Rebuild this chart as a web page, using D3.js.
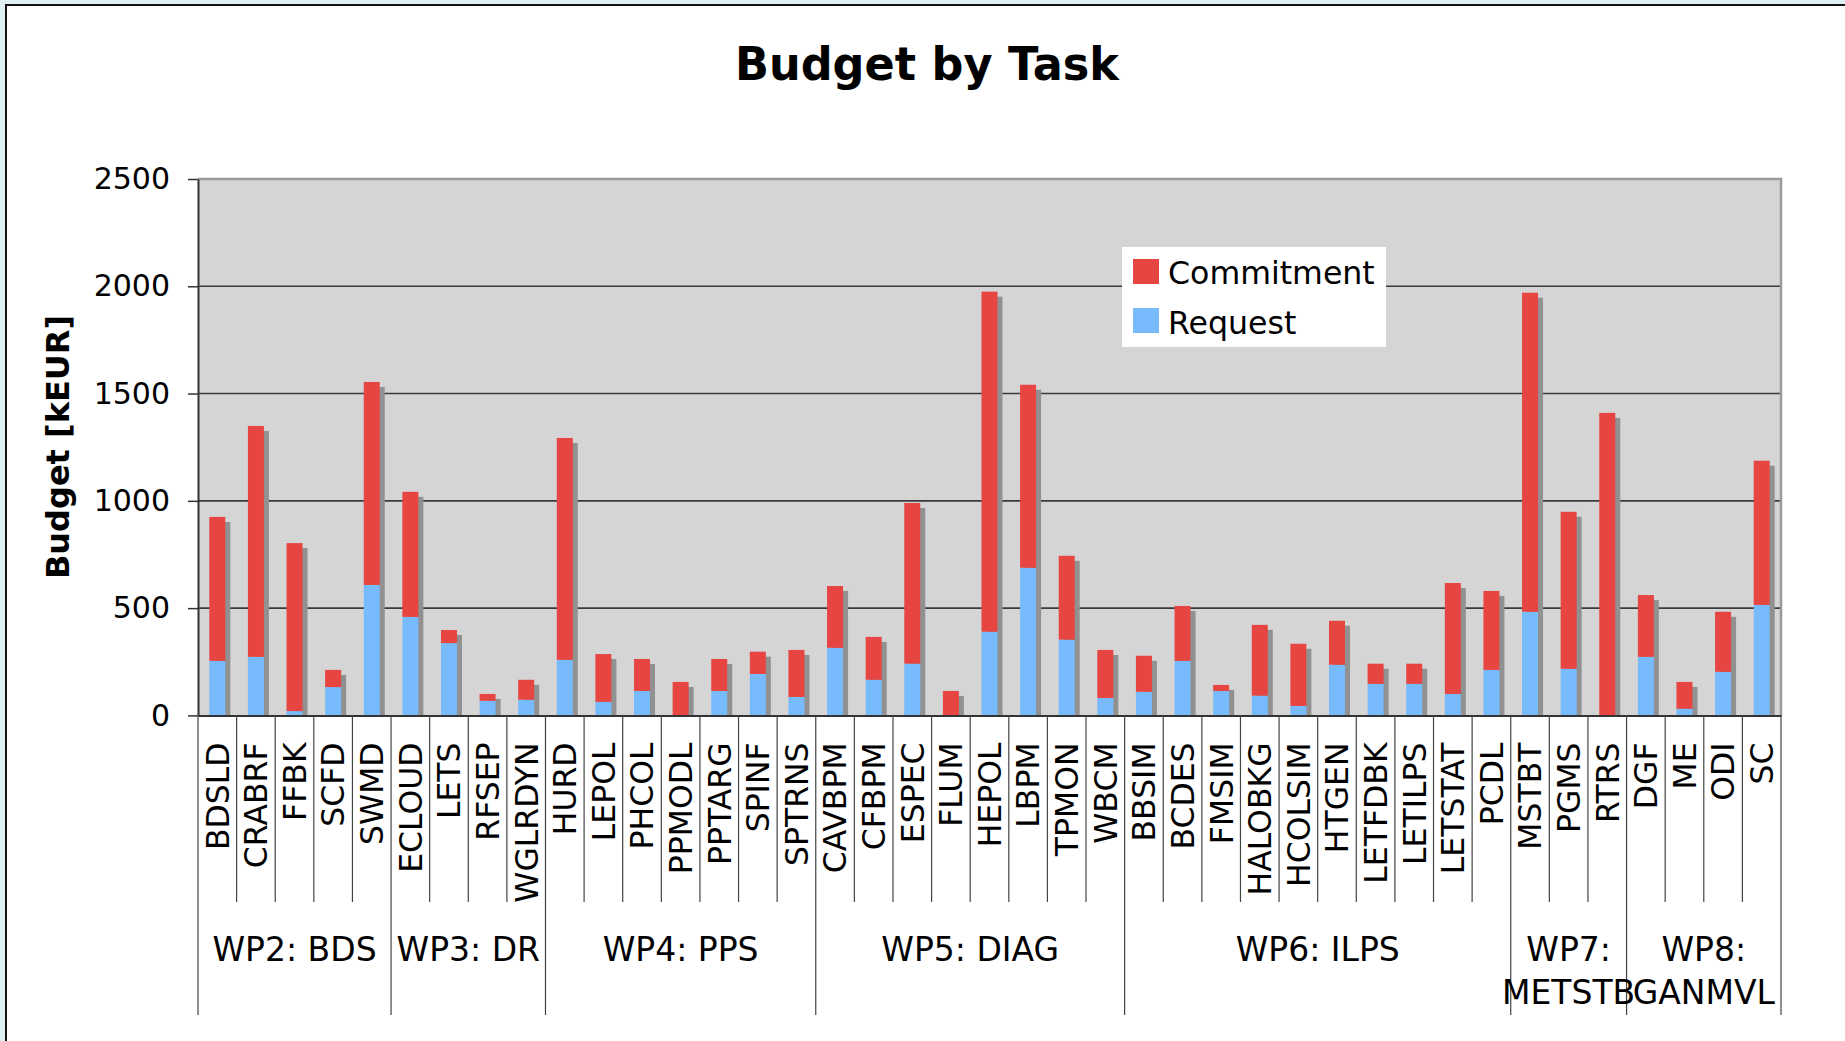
<!DOCTYPE html>
<html>
<head>
<meta charset="utf-8">
<script src="https://cdn.jsdelivr.net/npm/d3@7"></script>
<style>
  body { margin: 0; background: #dff0f5; overflow: hidden; }
  svg { display: block; }
  text { font-family: "DejaVu Sans", Verdana, sans-serif; fill: #000; }
</style>
</head>
<body>
<div id="budget-chart"></div>
<script>
//##########################################
//############   DATA   ####################
//##########################################

// tasks, in the order they are plotted
var tasks = ["BDSLD","CRABRF","FFBK","SCFD","SWMD",
             "ECLOUD","LETS","RFSEP","WGLRDYN",
             "HURD","LEPOL","PHCOL","PPMODL","PPTARG","SPINF","SPTRNS",
             "CAVBPM","CFBPM","ESPEC","FLUM","HEPOL","LBPM","TPMON","WBCM",
             "BBSIM","BCDES","FMSIM","HALOBKG","HCOLSIM","HTGEN","LETFDBK","LETILPS","LETSTAT","PCDL",
             "MSTBT","PGMS","RTRS",
             "DGF","ME","ODI","SC"]

// kEUR (request is the lower part of the stack)
var request = [254,273,20,132,608,
               459,337,68,73,
               259,63,114,0,114,193,86,
               315,166,241,0,390,688,353,81,
               110,254,114,92,44,236,147,147,100,212,
               483,217,0,
               273,31,203,515]

var commitment = [671,1076,783,80,946,
                  583,61,32,93,
                  1034,223,149,156,149,104,219,
                  288,200,749,114,1585,853,391,224,
                  168,256,28,330,290,205,94,94,517,368,
                  1487,732,1410,
                  288,125,280,672]

// work packages and how many tasks each one holds
var groupNames = ["WP2: BDS","WP3: DR","WP4: PPS","WP5: DIAG","WP6: ILPS","WP7: METSTB","WP8: GANMVL"]
var groupSizes = [5,4,7,8,10,3,4]

var yTicks = [0,500,1000,1500,2000,2500]
var seriesNames = ["Commitment","Request"]

var red = "#e64541"
var blue = "#77bbfd"
var shadow = "#919191"

//##########################################
//############   CHART   ###################
//##########################################

var W = 1845, H = 1041
var margin = {top: 179, left: 198},
    width = 1583,
    height = 536.4

var svg = d3.select("#budget-chart")
  .append("svg")
    .attr("width", W)
    .attr("height", H)

// white sheet with the dark frame on top / left
svg.append("rect")
  .attr("x", 6).attr("y", 5)
  .attr("width", W).attr("height", H)
  .style("fill", "white")
  .style("stroke", "#111")
  .style("stroke-width", 2)

svg.append("text")
  .attr("x", 927)
  .attr("y", 80)
  .attr("text-anchor", "middle")
  .attr("textLength", 384)
  .attr("lengthAdjust", "spacingAndGlyphs")
  .style("font-weight", "bold")
  .style("font-size", "47px")
  .text("Budget by Task")

var g = svg.append("g")
  .attr("transform", "translate(" + margin.left + "," + margin.top + ")")

var x = d3.scaleBand()
  .domain(tasks)
  .range([0, width])
  .padding(0)

var y = d3.scaleLinear()
  .domain([0, 2500])
  .range([height, 0])

// plot area
g.append("rect")
  .attr("width", width)
  .attr("height", height)
  .style("fill", "#d5d5d5")

// grid lines
g.selectAll("grid")
  .data(yTicks.filter(function(d){ return d > 0 && d < 2500 }))
  .enter()
  .append("line")
    .attr("x1", 0).attr("x2", width)
    .attr("y1", function(d){ return y(d) })
    .attr("y2", function(d){ return y(d) })
    .style("stroke", "#3a3a3a")
    .style("stroke-width", 1.6)

// top + right border of the plot
g.append("path")
  .attr("d", "M0," + y(2500) + "H" + width + "V" + height)
  .style("fill", "none")
  .style("stroke", "#9a9a9a")
  .style("stroke-width", 2.5)

var bw = 16
var off = (x.bandwidth() - bw) / 2

var stacks = tasks.map(function(t, i) {
  return {task: t, req: request[i], com: commitment[i], total: request[i] + commitment[i]}
})

// drop shadows
g.selectAll("shadows")
  .data(stacks)
  .enter()
  .append("rect")
    .attr("x", function(d){ return x(d.task) + off + 5 })
    .attr("y", function(d){ return y(d.total) + 5 })
    .attr("width", bw)
    .attr("height", function(d){ return Math.max(0, y(0) - y(d.total) - 5) })
    .style("fill", shadow)

// request (bottom)
g.selectAll("reqBars")
  .data(stacks)
  .enter()
  .append("rect")
    .attr("x", function(d){ return x(d.task) + off })
    .attr("y", function(d){ return y(d.req) })
    .attr("width", bw)
    .attr("height", function(d){ return y(0) - y(d.req) })
    .style("fill", blue)

// commitment (on top)
g.selectAll("comBars")
  .data(stacks)
  .enter()
  .append("rect")
    .attr("x", function(d){ return x(d.task) + off })
    .attr("y", function(d){ return y(d.total) })
    .attr("width", bw)
    .attr("height", function(d){ return y(d.req) - y(d.total) })
    .style("fill", red)

// Y axis
var yAxis = g.append("g")
  .call(d3.axisLeft(y).tickValues(yTicks).tickFormat(d3.format("d"))
          .tickSize(10).tickSizeOuter(0).tickPadding(18))
yAxis.select(".domain").style("stroke", "#333").style("stroke-width", 2)
yAxis.selectAll(".tick line").style("stroke", "#333").style("stroke-width", 1.5)
yAxis.selectAll("text")
  .style("font-family", '"DejaVu Sans", Verdana, sans-serif')
  .style("font-size", "30px")
  .style("fill", "#000")

svg.append("text")
  .attr("transform", "translate(69," + 447 + ") rotate(-90)")
  .attr("text-anchor", "middle")
  .style("font-weight", "bold")
  .style("font-size", "32px")
  .text("Budget [kEUR]")

// X axis: task names rotated
var xAxis = g.append("g")
  .attr("transform", "translate(0," + height + ")")
  .call(d3.axisBottom(x).tickSize(0).tickSizeOuter(0))
xAxis.select(".domain").style("stroke", "#333").style("stroke-width", 2)
xAxis.selectAll("text")
  .attr("transform", "rotate(-90)")
  .attr("x", -27)
  .attr("y", 0)
  .attr("dy", "0.36em")
  .style("text-anchor", "end")
  .style("font-family", '"DejaVu Sans", Verdana, sans-serif')
  .style("font-size", "31.5px")
  .style("fill", "#000")

// separators between tasks, longer ones between work packages
var groupEdges = [0]
groupSizes.forEach(function(n, i){ groupEdges.push(groupEdges[i] + n) })

var edges = d3.range(tasks.length + 1)
g.selectAll("sep")
  .data(edges)
  .enter()
  .append("line")
    .attr("x1", function(i){ return i * x.step() })
    .attr("x2", function(i){ return i * x.step() })
    .attr("y1", height)
    .attr("y2", function(i){ return groupEdges.indexOf(i) >= 0 ? 1015 - margin.top : 902 - margin.top })
    .style("stroke", "#444")
    .style("stroke-width", 1.2)

// work package labels, wrapped onto two lines when too wide
var wp = g.selectAll("wpLabels")
  .data(groupNames)
  .enter()
  .append("text")
    .attr("x", function(d, i){ return (groupEdges[i] + groupEdges[i + 1]) / 2 * x.step() })
    .attr("y", 961 - margin.top)
    .attr("text-anchor", "middle")
    .style("font-size", "33px")
    .text(function(d){ return d })

wp.each(function(d, i) {
  var t = d3.select(this)
  var room = groupSizes[i] * x.step()
  if (this.getComputedTextLength() > room) {
    var words = d.split(" ")
    var cx = t.attr("x")
    t.text(null)
    words.forEach(function(w, k) {
      t.append("tspan").attr("x", cx).attr("dy", k == 0 ? 0 : 43).text(w)
    })
  }
})

//##########################################
//############     LEGEND     ##############
//##########################################

var legend = svg.append("g")
  .attr("transform", "translate(1122,247)")

legend.append("rect")
  .attr("width", 264)
  .attr("height", 100)
  .style("fill", "white")

legend.selectAll("keys")
  .data(seriesNames)
  .enter()
  .append("rect")
    .attr("x", 11)
    .attr("y", function(d, i){ return 12 + i * 49 })
    .attr("width", 26)
    .attr("height", 25)
    .style("fill", function(d){ return d == "Commitment" ? red : blue })

legend.selectAll("keyText")
  .data(seriesNames)
  .enter()
  .append("text")
    .attr("x", 46)
    .attr("y", function(d, i){ return 37 + i * 50 })
    .style("font-size", "31.6px")
    .text(function(d){ return d })
</script>
</body>
</html>
